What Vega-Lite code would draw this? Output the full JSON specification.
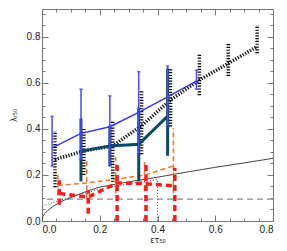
{
  "$schema": "https://vega.github.io/schema/vega-lite/v6.json",
  "width": 231,
  "height": 212,
  "autosize": {"type": "none"},
  "padding": {"left": 42, "top": 9, "right": 14, "bottom": 30},
  "background": "white",
  "config": {
    "view": {"stroke": "#777"},
    "axis": {"grid": false, "domainColor": "#777", "tickColor": "#777", "labelFont": "Liberation Sans", "labelFontSize": 10, "labelColor": "#222", "titleFont": "DejaVu Sans", "titleFontWeight": "normal", "titleColor": "#222", "titleFontSize": 8}
  },
  "datasets": {
    "pts": [
      {"s": "b", "x": 0.035, "y": 0.317, "lo": 0.239, "hi": 0.454},
      {"s": "b", "x": 0.135, "y": 0.380, "lo": 0.265, "hi": 0.572},
      {"s": "b", "x": 0.235, "y": 0.409, "lo": 0.239, "hi": 0.543},
      {"s": "b", "x": 0.335, "y": 0.471, "lo": 0.29, "hi": 0.648},
      {"s": "b", "x": 0.435, "y": 0.539, "lo": 0.41, "hi": 0.672},
      {"s": "b", "x": 0.535, "y": 0.607, "lo": 0.572, "hi": 0.654},
      {"s": "t", "x": 0.135, "y": 0.303, "lo": 0.172, "hi": 0.445},
      {"s": "t", "x": 0.235, "y": 0.326, "lo": 0.239, "hi": 0.415},
      {"s": "t", "x": 0.335, "y": 0.333, "lo": 0.172, "hi": 0.493},
      {"s": "t", "x": 0.435, "y": 0.455, "lo": 0.283, "hi": 0.662},
      {"s": "k", "x": 0.045, "y": 0.267, "lo": 0.147, "hi": 0.391},
      {"s": "k", "x": 0.145, "y": 0.304, "lo": 0.2, "hi": 0.40},
      {"s": "k", "x": 0.245, "y": 0.326, "lo": 0.17, "hi": 0.437},
      {"s": "k", "x": 0.345, "y": 0.414, "lo": 0.29, "hi": 0.568},
      {"s": "k", "x": 0.445, "y": 0.525, "lo": 0.41, "hi": 0.665},
      {"s": "k", "x": 0.545, "y": 0.612, "lo": 0.546, "hi": 0.725},
      {"s": "k", "x": 0.645, "y": 0.684, "lo": 0.629, "hi": 0.774},
      {"s": "k", "x": 0.745, "y": 0.757, "lo": 0.728, "hi": 0.851},
      {"s": "o", "x": 0.055, "y": 0.154, "lo": 0.11, "hi": 0.206},
      {"s": "o", "x": 0.155, "y": 0.165, "lo": 0.10, "hi": 0.271},
      {"s": "o", "x": 0.255, "y": 0.181, "lo": 0.12, "hi": 0.278},
      {"s": "o", "x": 0.355, "y": 0.199, "lo": 0.13, "hi": 0.264},
      {"s": "o", "x": 0.455, "y": 0.239, "lo": 0.12, "hi": 0.404},
      {"s": "r", "x": 0.06, "y": 0.119, "lo": 0.07, "hi": 0.177},
      {"s": "r", "x": 0.16, "y": 0.104, "lo": 0.032, "hi": 0.133},
      {"s": "r", "x": 0.26, "y": 0.165, "lo": 0.0, "hi": 0.25},
      {"s": "r", "x": 0.36, "y": 0.162, "lo": 0.0, "hi": 0.26},
      {"s": "r", "x": 0.46, "y": 0.152, "lo": 0.0, "hi": 0.23}
    ],
    "curve": [
      {"x": 0.0, "y": 0.0}, {"x": 0.003, "y": 0.02}, {"x": 0.01, "y": 0.033}, {"x": 0.02, "y": 0.046},
      {"x": 0.04, "y": 0.065}, {"x": 0.06, "y": 0.08}, {"x": 0.08, "y": 0.092}, {"x": 0.1, "y": 0.102},
      {"x": 0.15, "y": 0.127}, {"x": 0.2, "y": 0.147}, {"x": 0.3, "y": 0.17}, {"x": 0.4, "y": 0.19},
      {"x": 0.5, "y": 0.212}, {"x": 0.6, "y": 0.233}, {"x": 0.7, "y": 0.252}, {"x": 0.8, "y": 0.272}
    ],
    "dline": [
      {"i": 0, "x": 0.0, "y": 0.065}, {"i": 1, "x": 0.05, "y": 0.085}, {"i": 2, "x": 0.1, "y": 0.104},
      {"i": 3, "x": 0.15, "y": 0.122}, {"i": 4, "x": 0.2, "y": 0.138}, {"i": 5, "x": 0.3, "y": 0.162},
      {"i": 6, "x": 0.4, "y": 0.18}, {"i": 7, "x": 0.4, "y": 0.0}
    ],
    "hline": [{"y": 0.095}]
  },
  "layer": [
    {
      "data": {"name": "hline"},
      "mark": {"type": "rule", "color": "#888", "strokeWidth": 1.3, "strokeDash": [6, 4]},
      "encoding": {
        "y": {"field": "y", "type": "quantitative", "scale": {"domain": [0, 0.92], "nice": false},
          "axis": {"orient": "left", "title": "λᵣ₅₀", "titlePadding": 8,
            "values": [0,0.05,0.1,0.15,0.2,0.25,0.3,0.35,0.4,0.45,0.5,0.55,0.6,0.65,0.7,0.75,0.8,0.85,0.9],
            "labelExpr": "abs(datum.value*5-round(datum.value*5))<0.001 ? format(datum.value,'.1f') : ''",
            "tickSize": {"condition": {"test": "abs(datum.value*5-round(datum.value*5))<0.001", "value": -6}, "value": -3},
            "labelPadding": 8}}
      }
    },
    {
      "data": {"name": "hline"},
      "mark": {"type": "rule", "opacity": 0},
      "encoding": {
        "x": {"datum": 0, "type": "quantitative", "scale": {"domain": [0, 0.8], "nice": false},
          "axis": {"orient": "top", "labels": false, "title": null,
            "values": [0,0.05,0.1,0.15,0.2,0.25,0.3,0.35,0.4,0.45,0.5,0.55,0.6,0.65,0.7,0.75,0.8],
            "tickSize": {"condition": {"test": "abs(datum.value*5-round(datum.value*5))<0.001", "value": -6}, "value": -3}}},
        "y": {"field": "y", "type": "quantitative", "scale": {"domain": [0, 0.92], "nice": false},
          "axis": {"orient": "right", "labels": false, "title": null,
            "values": [0,0.05,0.1,0.15,0.2,0.25,0.3,0.35,0.4,0.45,0.5,0.55,0.6,0.65,0.7,0.75,0.8,0.85,0.9],
            "tickSize": {"condition": {"test": "abs(datum.value*5-round(datum.value*5))<0.001", "value": -6}, "value": -3}}}
      }
    },
    {
      "data": {"name": "curve"},
      "mark": {"type": "line", "color": "#444", "strokeWidth": 1, "clip": true},
      "encoding": {
        "x": {"field": "x", "type": "quantitative", "scale": {"domain": [0, 0.8], "nice": false},
          "axis": {"orient": "bottom", "title": "ετ₅₀", "titlePadding": 2,
            "values": [0,0.05,0.1,0.15,0.2,0.25,0.3,0.35,0.4,0.45,0.5,0.55,0.6,0.65,0.7,0.75,0.8],
            "labelExpr": "abs(datum.value*5-round(datum.value*5))<0.001 ? format(datum.value,'.1f') : ''",
            "tickSize": {"condition": {"test": "abs(datum.value*5-round(datum.value*5))<0.001", "value": -6}, "value": -3},
            "labelPadding": 9}},
        "y": {"field": "y", "type": "quantitative", "scale": {"domain": [0, 0.92], "nice": false}, "axis": null}
      }
    },
    {
      "data": {"name": "dline"},
      "mark": {"type": "line", "color": "#444", "strokeWidth": 1, "strokeDash": [1, 2], "clip": true},
      "encoding": {
        "x": {"field": "x", "type": "quantitative", "scale": {"domain": [0, 0.8], "nice": false}, "axis": null},
        "y": {"field": "y", "type": "quantitative", "scale": {"domain": [0, 0.92], "nice": false}, "axis": null},
        "order": {"field": "i"}
      }
    },
    {
      "data": {"name": "pts"},
      "transform": [{"filter": "datum.s == 'o'"}],
      "layer": [
        {"mark": {"type": "line", "color": "#f07828", "strokeWidth": 1.5, "strokeDash": [5, 3]},
         "encoding": {"x": {"field": "x", "type": "quantitative", "axis": null}, "y": {"field": "y", "type": "quantitative", "axis": null}}},
        {"mark": {"type": "rule", "color": "#f07828", "strokeWidth": 1.5, "strokeDash": [5, 3]},
         "encoding": {"x": {"field": "x", "type": "quantitative", "axis": null}, "y": {"field": "lo", "type": "quantitative", "axis": null}, "y2": {"field": "hi"}}}
      ]
    },
    {
      "data": {"name": "pts"},
      "transform": [{"filter": "datum.s == 'r'"}],
      "layer": [
        {"mark": {"type": "line", "color": "#ff1a1a", "strokeWidth": 3.5, "strokeDash": [6, 4]},
         "encoding": {"x": {"field": "x", "type": "quantitative", "axis": null}, "y": {"field": "y", "type": "quantitative", "axis": null}}},
        {"mark": {"type": "rule", "color": "#ff1a1a", "strokeWidth": 3.5, "strokeDash": [6, 4], "clip": true},
         "encoding": {"x": {"field": "x", "type": "quantitative", "axis": null}, "y": {"field": "lo", "type": "quantitative", "axis": null}, "y2": {"field": "hi"}}}
      ]
    },
    {
      "data": {"name": "pts"},
      "transform": [{"filter": "datum.s == 'k'"}],
      "layer": [
        {"mark": {"type": "line", "color": "#000", "strokeWidth": 3.5, "strokeDash": [1.2, 1.6]},
         "encoding": {"x": {"field": "x", "type": "quantitative", "axis": null}, "y": {"field": "y", "type": "quantitative", "axis": null}}},
        {"mark": {"type": "rule", "color": "#000", "strokeWidth": 3.5, "strokeDash": [1.2, 1.6]},
         "encoding": {"x": {"field": "x", "type": "quantitative", "axis": null}, "y": {"field": "lo", "type": "quantitative", "axis": null}, "y2": {"field": "hi"}}}
      ]
    },
    {
      "data": {"name": "pts"},
      "transform": [{"filter": "datum.s == 't'"}],
      "layer": [
        {"mark": {"type": "line", "color": "#0b4a66", "strokeWidth": 3}, 
         "encoding": {"x": {"field": "x", "type": "quantitative", "axis": null}, "y": {"field": "y", "type": "quantitative", "axis": null}}},
        {"mark": {"type": "rule", "color": "#0b4a66", "strokeWidth": 3},
         "encoding": {"x": {"field": "x", "type": "quantitative", "axis": null}, "y": {"field": "lo", "type": "quantitative", "axis": null}, "y2": {"field": "hi"}}}
      ]
    },
    {
      "data": {"name": "pts"},
      "transform": [{"filter": "datum.s == 'b'"}],
      "layer": [
        {"mark": {"type": "line", "color": "#3535f5", "strokeWidth": 1.4},
         "encoding": {"x": {"field": "x", "type": "quantitative", "axis": null}, "y": {"field": "y", "type": "quantitative", "axis": null}}},
        {"mark": {"type": "rule", "color": "#4a4aff", "strokeWidth": 1.5},
         "encoding": {"x": {"field": "x", "type": "quantitative", "axis": null}, "y": {"field": "lo", "type": "quantitative", "axis": null}, "y2": {"field": "hi"}}},
        {"transform": [{"fold": ["lo", "hi"], "as": ["k", "v"]}],
         "mark": {"type": "point", "shape": "stroke", "color": "#3535f5", "strokeWidth": 1.5, "size": 12, "filled": false},
         "encoding": {"x": {"field": "x", "type": "quantitative", "axis": null}, "y": {"field": "v", "type": "quantitative", "axis": null}}}
      ]
    }
  ],
  "resolve": {"axis": {"x": "independent", "y": "independent"}}
}
